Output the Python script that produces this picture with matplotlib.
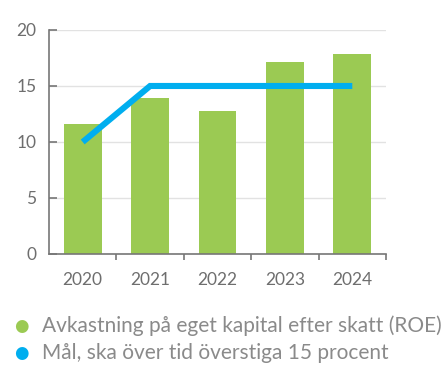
import matplotlib.pyplot as plt
import numpy as np

plt.rcParams['font.family'] = ['Lato', 'DejaVu Sans']

years = ["2020", "2021", "2022", "2023", "2024"]
roe = [11.6, 13.9, 12.8, 17.1, 17.9]
target = [10, 15, 15, 15, 15]
yticks = [0, 5, 10, 15, 20]

green = "#9bca53"
blue = "#00aeef"
grey = "#777777"

fig = plt.figure(figsize=(4.47, 3.8), dpi=100)
ax = fig.add_axes([0.1096, 0.3316, 0.7539, 0.5895])

x = np.arange(len(years))
ax.bar(x, roe, width=0.56, color=green, zorder=2)
ax.plot(x, target, color=blue, linewidth=4.4, solid_capstyle='butt',
        solid_joinstyle='miter', zorder=3)

ax.set_xlim(-0.5, len(years) - 0.5)
ax.set_ylim(0, 20)
ax.set_yticks(yticks)
ax.set_yticklabels([str(t) for t in yticks])
ax.grid(axis='y', color="#e2e2e2", linewidth=1, zorder=0)

ax.set_xticks(x)
ax.set_xticklabels(years)
ax.set_xticks(np.arange(len(years) + 1)[1:] - 0.5, minor=True)
ax.tick_params(axis='x', which='major', length=0, pad=13, labelsize=12.5, labelcolor="#6e6e6e")
ax.tick_params(axis='x', which='minor', length=4, width=1.2, color=grey, direction='out')
ax.tick_params(axis='y', length=6, width=1.2, color=grey, direction='in', pad=9,
               labelsize=12.5, labelcolor="#6e6e6e")

for s in ['top', 'right']:
    ax.spines[s].set_visible(False)
for s in ['left', 'bottom']:
    ax.spines[s].set_color(grey)
    ax.spines[s].set_linewidth(1.2)

labels = ["Avkastning på eget kapital efter skatt (ROE)",
          "Mål, ska över tid överstiga 15 procent"]
for i, (lab, col) in enumerate(zip(labels, [green, blue])):
    yy = 1 - (326 + i * 27) / 380
    fig.text(21 / 447, yy, "●", color=col, fontsize=12, ha='center', va='center',
             family='DejaVu Sans')
    fig.text(42 / 447, yy, lab, color="#8a8a8a", fontsize=15, ha='left', va='center')

fig.savefig("out.png", dpi=100)
